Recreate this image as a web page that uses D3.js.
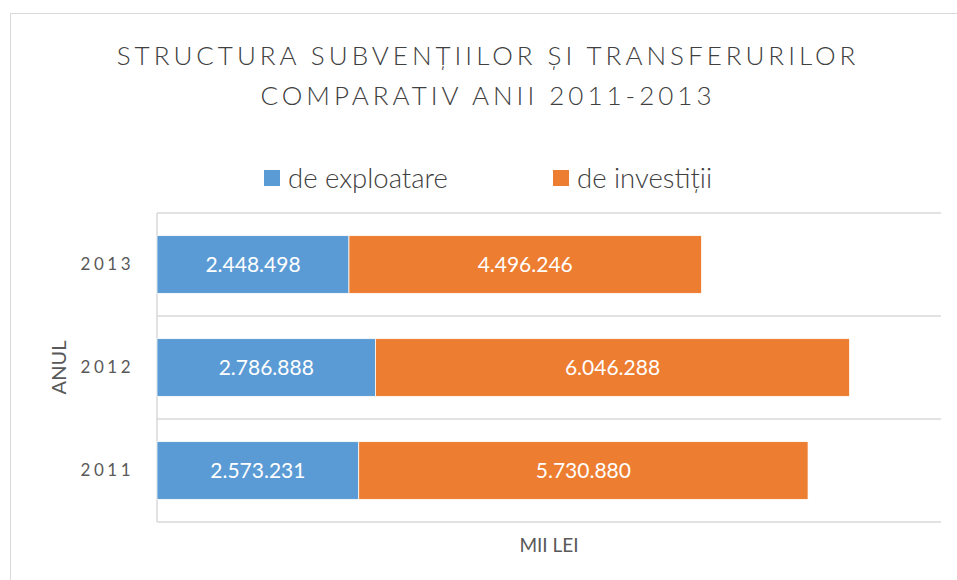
<!DOCTYPE html>
<html lang="ro">
<head>
<meta charset="UTF-8">
<title>Structura subventiilor</title>
<script src="https://d3js.org/d3.v7.min.js"></script>
<style>
  body { margin: 0; background: #fff; }
  text { font-family: Lato, "Open Sans", sans-serif; }
</style>
</head>
<body>
<div id="chart"></div>
<script>
// data
var years = ["2013", "2012", "2011"];
var exploatare = [2448498, 2786888, 2573231];
var investitii = [4496246, 6046288, 5730880];
var seriesNames = ["de exploatare", "de investiții"];
var colors = ["#5B9BD5", "#ED7D31"];

var width = 957, height = 580;
var margin = {top: 213, right: 16, bottom: 58, left: 157};

var svg = d3.select("#chart").append("svg")
    .attr("width", width)
    .attr("height", height);

// outer chart frame
svg.append("rect")
    .attr("x", 10.5).attr("y", 13.5)
    .attr("width", 960).attr("height", 600)
    .attr("fill", "none").attr("stroke", "#d9d9d9");

var x = d3.scaleLinear()
    .domain([0, 10000000])
    .range([margin.left, width - margin.right]);

var y = d3.scaleBand()
    .domain(years)
    .range([margin.top, height - margin.bottom])
    .paddingInner(0.44)
    .paddingOuter(0.22);

// gridlines at band boundaries
var bounds = d3.range(years.length + 1).map(function(i) { return margin.top + i * (height - margin.bottom - margin.top) / years.length; });
svg.append("g").selectAll("line").data(bounds).join("line")
    .attr("x1", margin.left).attr("x2", width - margin.right)
    .attr("y1", function(d) { return d; }).attr("y2", function(d) { return d; })
    .attr("stroke", "#d9d9d9").attr("stroke-width", 1.5);

svg.append("line")
    .attr("x1", margin.left).attr("x2", margin.left)
    .attr("y1", margin.top).attr("y2", height - margin.bottom)
    .attr("stroke", "#d9d9d9").attr("stroke-width", 1.5);

// stacked bars
var rows = years.map(function(yr, i) { return {year: yr, "de exploatare": exploatare[i], "de investiții": investitii[i]}; });
var stack = d3.stack().keys(seriesNames)(rows);

var layers = svg.append("g").selectAll("g").data(stack).join("g")
    .attr("fill", function(d, i) { return colors[i]; });

layers.selectAll("rect").data(function(d) { return d; }).join("rect")
    .attr("x", function(d) { return x(d[0]); })
    .attr("y", function(d) { return y(d.data.year); })
    .attr("width", function(d) { return x(d[1]) - x(d[0]); })
    .attr("height", y.bandwidth())
    .attr("stroke", "#fff").attr("stroke-width", 0.75);

var fmt = function(v) { return d3.format(",")(v).replace(/,/g, "."); };

layers.selectAll("text").data(function(d) { return d; }).join("text")
    .attr("x", function(d) { return (x(d[0]) + x(d[1])) / 2; })
    .attr("y", function(d) { return y(d.data.year) + y.bandwidth() / 2; })
    .attr("dy", "0.35em")
    .attr("text-anchor", "middle")
    .attr("fill", "#fff")
    .style("font-size", "21px")
    .text(function(d) { return fmt(d[1] - d[0]); });

// year labels
svg.append("g").selectAll("text").data(years).join("text")
    .attr("x", 134)
    .attr("y", function(d) { return y(d) + y.bandwidth() / 2; })
    .attr("dy", "0.35em")
    .attr("text-anchor", "end")
    .attr("fill", "#595959")
    .style("font-size", "17px")
    .style("letter-spacing", "3.5px")
    .text(function(d) { return d; });

svg.append("text")
    .attr("transform", "translate(66," + ((margin.top + height - margin.bottom) / 2) + ") rotate(-90)")
    .attr("text-anchor", "middle")
    .attr("fill", "#595959")
    .style("font-size", "20px")
    .text("ANUL");

svg.append("text")
    .attr("x", (margin.left + width - margin.right) / 2)
    .attr("y", 552)
    .attr("text-anchor", "middle")
    .attr("fill", "#595959")
    .style("font-size", "19px")
    .text("MII LEI");

// title
var title = ["STRUCTURA SUBVENȚIILOR ȘI TRANSFERURILOR", "COMPARATIV ANII 2011-2013"];
svg.append("g").selectAll("text").data(title).join("text")
    .attr("x", 488)
    .attr("y", function(d, i) { return 65 + i * 40; })
    .attr("text-anchor", "middle")
    .attr("fill", "#404040")
    .style("font-size", "26px")
    .style("font-weight", 300)
    .style("letter-spacing", "4px")
    .text(function(d) { return d; });

// legend
var legendX = [264, 553];
var lg = svg.append("g").selectAll("g").data(seriesNames).join("g")
    .attr("transform", function(d, i) { return "translate(" + legendX[i] + ",170)"; });
lg.append("rect").attr("width", 16).attr("height", 16)
    .attr("fill", function(d, i) { return colors[i]; });
lg.append("text").attr("x", 24).attr("y", 8).attr("dy", "0.35em")
    .attr("fill", "#404040")
    .style("font-size", "27.5px")
    .style("font-weight", 300)
    .text(function(d) { return d; });
</script>
</body>
</html>
